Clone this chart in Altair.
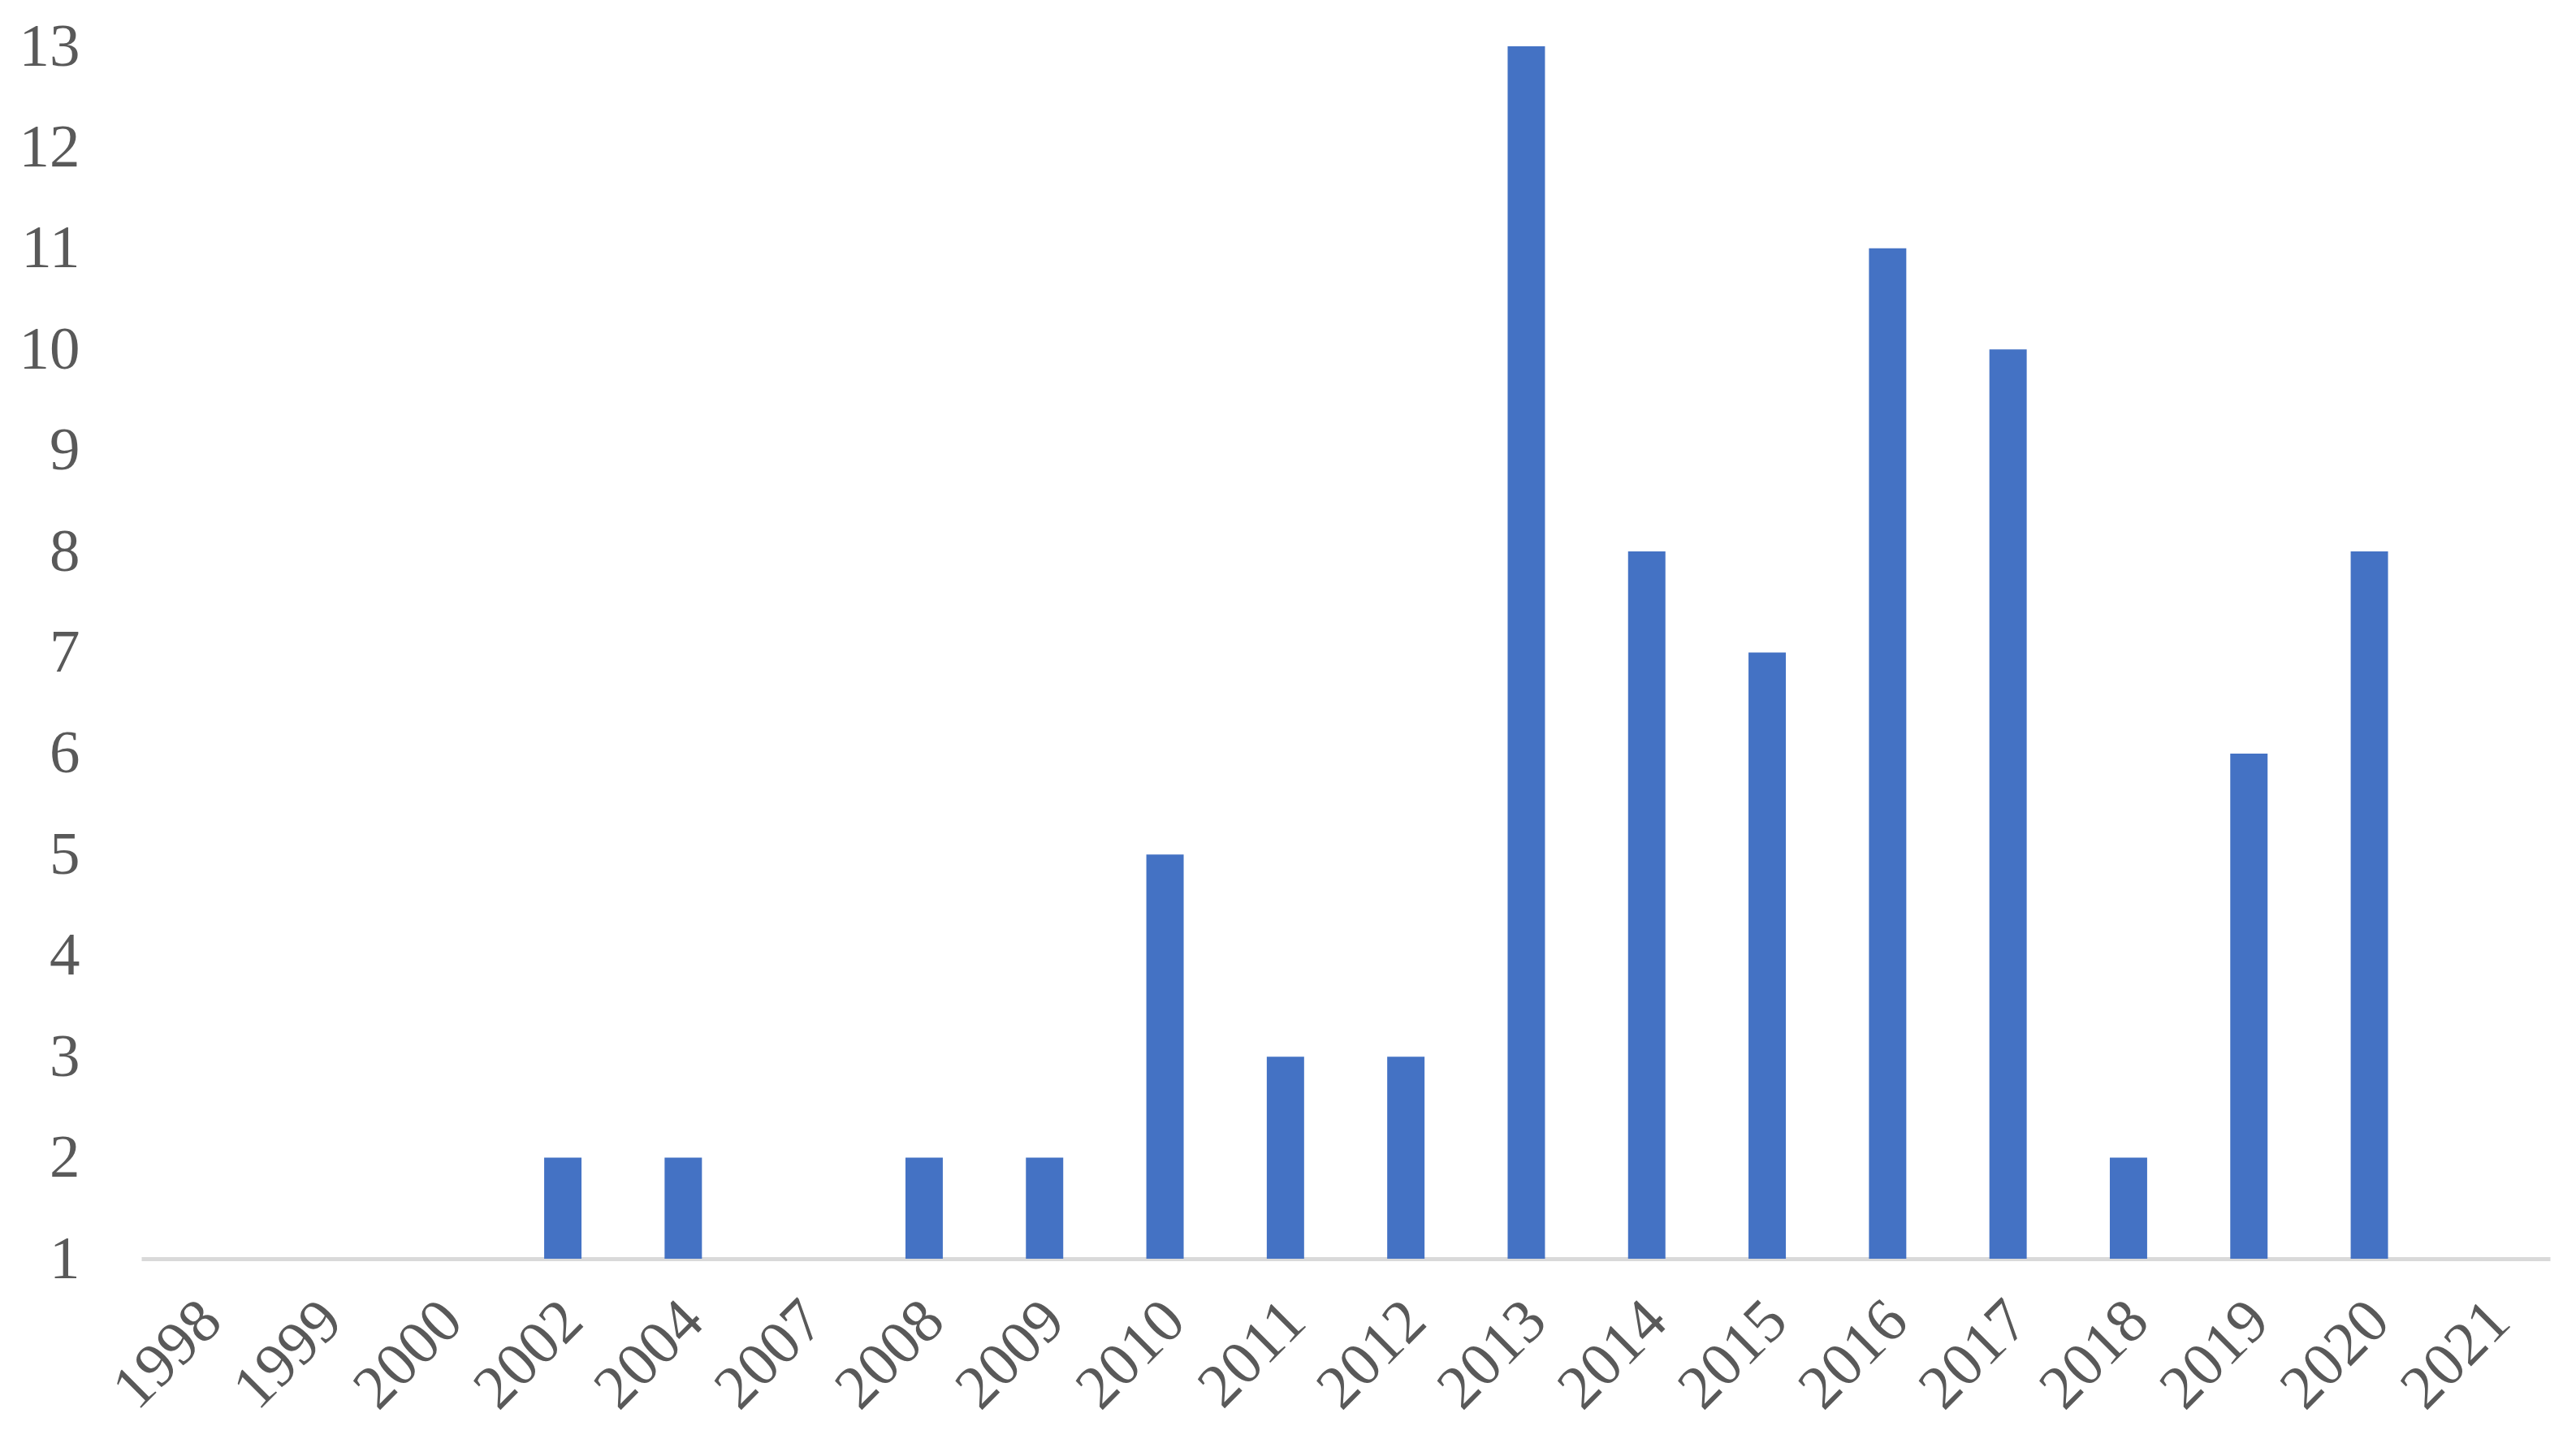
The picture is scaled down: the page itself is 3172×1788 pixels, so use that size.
import altair as alt
import pandas as pd

years = ["1998", "1999", "2000", "2002", "2004", "2007", "2008", "2009", "2010", "2011",
         "2012", "2013", "2014", "2015", "2016", "2017", "2018", "2019", "2020", "2021"]
counts = [1, 1, 1, 2, 2, 1, 2, 2, 5, 3, 3, 13, 8, 7, 11, 10, 2, 6, 8, 1]
y_ticks = list(range(1, 14))

df = pd.DataFrame({"year": years, "count": counts})

FONT = "Liberation Serif"
LABEL_COLOR = "#595959"

chart = alt.Chart(df).mark_bar(color="#4472C4").encode(
    x=alt.X("year:N", sort=years,
            scale=alt.Scale(paddingInner=0.69, paddingOuter=0.345),
            axis=alt.Axis(title=None, labelAngle=-45, labelFont=FONT, labelFontSize=76,
                          labelColor=LABEL_COLOR, ticks=False, tickSize=0, labelPadding=38,
                          labelOffset=-14,
                          domainColor="#D9D9D9", domainWidth=5, grid=False)),
    y=alt.Y("count:Q", scale=alt.Scale(domain=[1, 13], zero=False, nice=False),
            axis=alt.Axis(title=None, values=y_ticks, labelFont=FONT, labelFontSize=75,
                          labelColor=LABEL_COLOR, ticks=False, tickSize=0, labelPadding=76,
                          domain=False, grid=False)),
    y2=alt.datum(1),
).properties(
    width=2966, height=1493,
    autosize=alt.AutoSizeParams(type="none"),
    padding={"left": 166, "top": 49, "right": 24, "bottom": 230},
).configure_view(stroke=None)

chart.save("out.html", embed_options={"renderer": "svg", "actions": False})
